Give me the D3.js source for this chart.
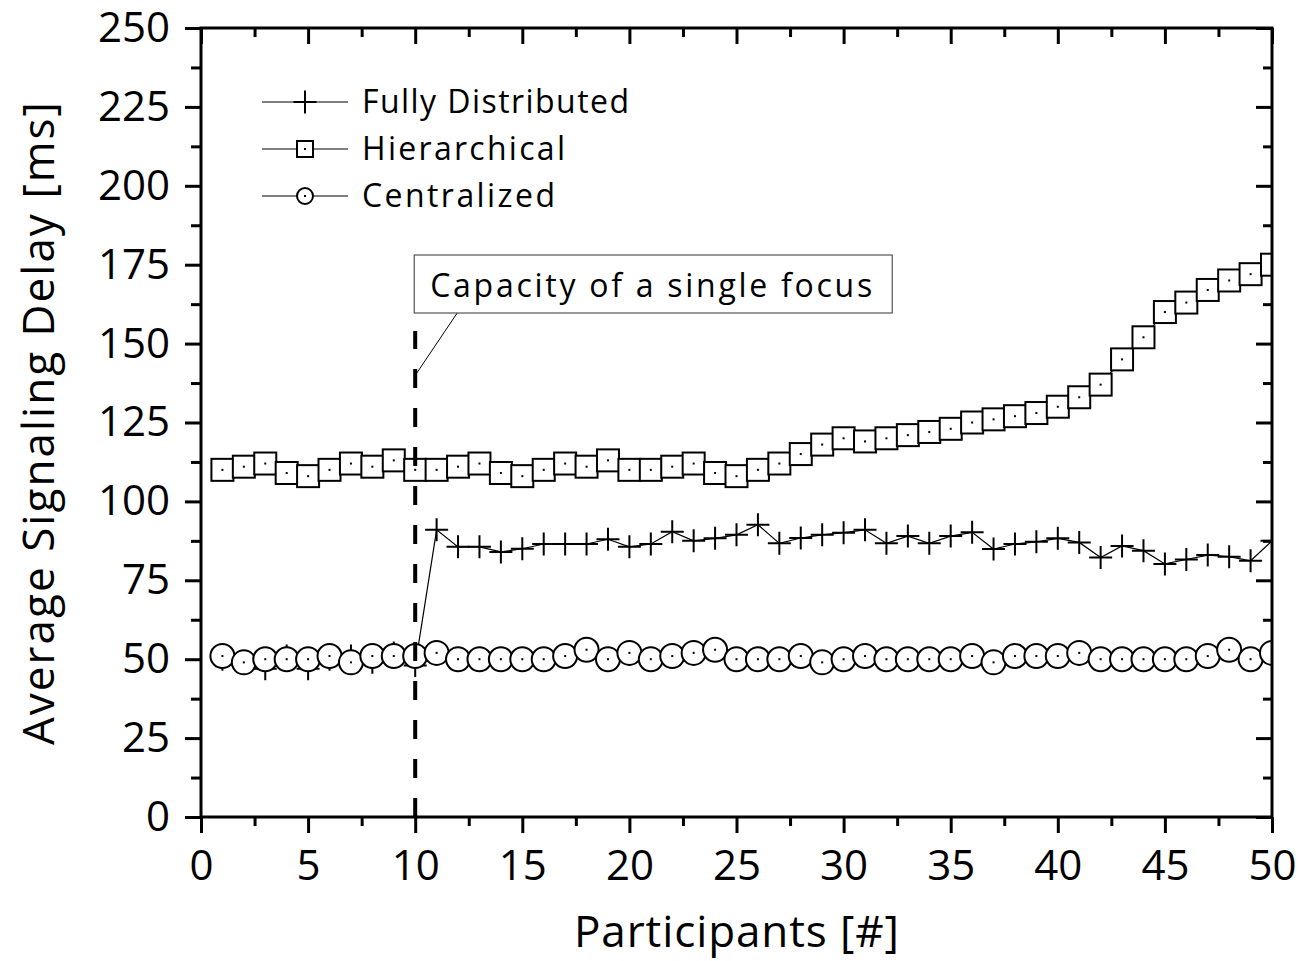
<!DOCTYPE html>
<html>
<head>
<meta charset="utf-8">
<script src="https://cdn.jsdelivr.net/npm/d3@7"></script>
<style>
  html, body { margin: 0; padding: 0; background: #fff; }
  svg { display: block; font-family: "Open Sans", sans-serif; }
</style>
</head>
<body>
<div id="chart"></div>
<script>
// Average signaling delay vs. number of participants, three architectures.

const participants = [1, 2, 3, 4, 5, 6, 7, 8, 9, 10, 11, 12, 13, 14, 15, 16, 17, 18, 19, 20,
  21, 22, 23, 24, 25, 26, 27, 28, 29, 30, 31, 32, 33, 34, 35, 36, 37, 38, 39, 40,
  41, 42, 43, 44, 45, 46, 47, 48, 49, 50];

const fullyDistributed = [50, 49, 47, 51, 47, 50, 51, 49, 52, 48,
  91, 85.6, 85.6, 84, 85, 86.5, 86.5, 86.5, 88, 85.6,
  86.5, 90.4, 87.5, 88.3, 89.4, 92.6, 86.7, 88.4, 89.4, 90.1,
  91, 86.7, 89, 86.7, 89, 90.2, 84.9, 86.5, 87.2, 88.3,
  87, 82.2, 85.9, 84.4, 80.2, 81.6, 83, 82.5, 81.2, 87.5];

const hierarchical = [110, 111, 112, 109, 108, 110, 112, 111, 113, 110,
  110, 111, 112, 109, 108, 110, 112, 111, 113, 110,
  110, 111, 112, 109, 108, 110, 112, 115, 118, 120,
  119, 120, 121, 122, 123, 125, 126, 127, 128, 130,
  133, 137, 145, 152, 160, 163, 167, 170, 172, 175];

const centralized = [51, 49, 50, 50, 50, 51, 49, 51, 51, 51,
  52, 50, 50, 50, 50, 50, 51, 53, 50, 52,
  50, 51, 52, 53, 50, 50, 50, 51, 49, 50,
  51, 50, 50, 50, 50, 51, 49, 51, 51, 51,
  52, 50, 50, 50, 50, 50, 51, 53, 50, 52];

const seriesNames = ['Fully Distributed', 'Hierarchical', 'Centralized'];
const xTicks = [0, 5, 10, 15, 20, 25, 30, 35, 40, 45, 50];
const xMinorTicks = [2.5, 7.5, 12.5, 17.5, 22.5, 27.5, 32.5, 37.5, 42.5, 47.5];
const yTicks = [0, 25, 50, 75, 100, 125, 150, 175, 200, 225, 250];
const yMinorTicks = [12.5, 37.5, 62.5, 87.5, 112.5, 137.5, 162.5, 187.5, 212.5, 237.5];

const capacityX = 10;          // single focus capacity (participants)
const capacityTop = 154;       // where the dashed marker stops (ms)
const capacityLabel = 'Capacity of a single focus';
const xTitle = 'Participants [#]';
const yTitle = 'Average Signaling Delay [ms]';

const W = 1300, H = 961;
const margin = { top: 28, right: 28, bottom: 144, left: 201 };

const x = d3.scaleLinear().domain([0, 50]).range([margin.left, W - margin.right]);
const y = d3.scaleLinear().domain([0, 250]).range([H - margin.bottom, margin.top]);

const svg = d3.select('#chart').append('svg')
  .attr('width', W).attr('height', H)
  .attr('viewBox', `0 0 ${W} ${H}`);

svg.append('defs').append('clipPath').attr('id', 'plot-clip')
  .append('rect')
    .attr('x', x(0)).attr('y', y(250))
    .attr('width', x(50) - x(0)).attr('height', y(0) - y(250));

// --- axes ---------------------------------------------------------------
function styleAxis(g) {
  g.select('.domain').remove();
  g.selectAll('.tick line').attr('stroke', '#000').attr('stroke-width', 3);
  g.selectAll('.tick text').attr('fill', '#000')
    .attr('font-size', 42).attr('font-family', '"Open Sans", sans-serif');
}

svg.append('g').attr('transform', `translate(${x(0)},0)`)
  .call(d3.axisLeft(y).tickValues(yTicks).tickSize(16).tickPadding(15).tickSizeOuter(0))
  .call(styleAxis);
svg.append('g').attr('transform', `translate(${x(0)},0)`)
  .call(d3.axisLeft(y).tickValues(yMinorTicks).tickSize(10).tickFormat('').tickSizeOuter(0))
  .call(styleAxis);
svg.append('g').attr('transform', `translate(${x(50)},0)`)
  .call(d3.axisRight(y).tickValues(yTicks).tickSize(-16).tickFormat('').tickSizeOuter(0))
  .call(styleAxis);
svg.append('g').attr('transform', `translate(${x(50)},0)`)
  .call(d3.axisRight(y).tickValues(yMinorTicks).tickSize(-9).tickFormat('').tickSizeOuter(0))
  .call(styleAxis);

svg.append('g').attr('transform', `translate(0,${y(0)})`)
  .call(d3.axisBottom(x).tickValues(xTicks).tickSize(16).tickPadding(17).tickSizeOuter(0))
  .call(styleAxis);
svg.append('g').attr('transform', `translate(0,${y(0)})`)
  .call(d3.axisBottom(x).tickValues(xMinorTicks).tickSize(9).tickFormat('').tickSizeOuter(0))
  .call(styleAxis);
svg.append('g').attr('transform', `translate(0,${y(250)})`)
  .call(d3.axisTop(x).tickValues(xTicks).tickSize(-16).tickFormat('').tickSizeOuter(0))
  .call(styleAxis);
svg.append('g').attr('transform', `translate(0,${y(250)})`)
  .call(d3.axisTop(x).tickValues(xMinorTicks).tickSize(-9).tickFormat('').tickSizeOuter(0))
  .call(styleAxis);

// axis titles
svg.append('text')
  .attr('x', (x(0) + x(50)) / 2).attr('y', 947)
  .attr('text-anchor', 'middle').attr('font-size', 44)
  .attr('textLength', 325).attr('lengthAdjust', 'spacing')
  .text(xTitle);
svg.append('text')
  .attr('transform', `translate(54,${(y(0) + y(250)) / 2 + 1}) rotate(-90)`)
  .attr('text-anchor', 'middle').attr('font-size', 44)
  .attr('textLength', 643).attr('lengthAdjust', 'spacing')
  .text(yTitle);

// --- markers ------------------------------------------------------------
const markers = {
  plus(sel, s) {
    sel.append('path').attr('d', `M${-s},0H${s}M0,${-s}V${s}`)
      .attr('stroke', '#000').attr('stroke-width', 2).attr('fill', 'none');
  },
  square(sel, s) {
    sel.append('rect').attr('x', -s).attr('y', -s).attr('width', 2 * s).attr('height', 2 * s)
      .attr('fill', '#fff').attr('stroke', '#000').attr('stroke-width', 2);
    sel.append('rect').attr('x', -1).attr('y', -1).attr('width', 2).attr('height', 2).attr('fill', '#000');
  },
  circle(sel, s) {
    sel.append('circle').attr('r', s)
      .attr('fill', '#fff').attr('stroke', '#000').attr('stroke-width', 2);
    sel.append('rect').attr('x', -1).attr('y', -1).attr('width', 2).attr('height', 2).attr('fill', '#000');
  }
};

const series = [
  { name: seriesNames[0], values: fullyDistributed, marker: 'plus', size: 11.5, legendSize: 11.5 },
  { name: seriesNames[1], values: hierarchical, marker: 'square', size: 11, legendSize: 8 },
  { name: seriesNames[2], values: centralized, marker: 'circle', size: 12, legendSize: 8 }
];

const plot = svg.append('g').attr('clip-path', 'url(#plot-clip)');
const line = d3.line().x(d => x(d[0])).y(d => y(d[1]));

series.forEach(s => {
  const pts = participants.map((p, i) => [p, s.values[i]]);
  const g = plot.append('g');
  g.append('path').attr('d', line(pts))
    .attr('fill', 'none').attr('stroke', '#000').attr('stroke-width', 1.2);
  g.selectAll('g.pt').data(pts).enter().append('g')
    .attr('class', 'pt')
    .attr('transform', d => `translate(${x(d[0])},${y(d[1])})`)
    .each(function () { markers[s.marker](d3.select(this), s.size); });
});

// frame
svg.append('rect')
  .attr('x', x(0)).attr('y', y(250))
  .attr('width', x(50) - x(0)).attr('height', y(0) - y(250))
  .attr('fill', 'none').attr('stroke', '#000').attr('stroke-width', 3);

// --- capacity marker + annotation ----------------------------------------
svg.append('line')
  .attr('x1', x(capacityX)).attr('y1', y(0))
  .attr('x2', x(capacityX)).attr('y2', y(capacityTop))
  .attr('stroke', '#000').attr('stroke-width', 4).attr('stroke-dasharray', '19 20');

const boxX = x(capacityX) - 1, boxY = 255, boxW = 478, boxH = 58;
svg.append('line')
  .attr('x1', boxX + 43).attr('y1', boxY + boxH)
  .attr('x2', x(capacityX) + 1).attr('y2', y(140.4))
  .attr('stroke', '#000').attr('stroke-width', 1);
svg.append('rect')
  .attr('x', boxX).attr('y', boxY).attr('width', boxW).attr('height', boxH)
  .attr('fill', '#fff').attr('stroke', '#333').attr('stroke-width', 1);
svg.append('text')
  .attr('x', boxX + 16).attr('y', boxY + 42)
  .attr('font-size', 32).attr('textLength', 442).attr('lengthAdjust', 'spacing')
  .text(capacityLabel);

// --- legend -------------------------------------------------------------
const legendWidths = [267, 203, 193];
const legend = svg.append('g').attr('transform', 'translate(262,102)');
series.forEach((s, i) => {
  const row = legend.append('g').attr('transform', `translate(0,${i * 47})`);
  row.append('line').attr('x1', 0).attr('x2', 86).attr('y1', 0).attr('y2', 0)
    .attr('stroke', '#000').attr('stroke-width', 1.2);
  const m = row.append('g').attr('transform', 'translate(43,0)');
  markers[s.marker](m, s.legendSize);
  row.append('text').attr('x', 100).attr('y', 11)
    .attr('font-size', 32).attr('textLength', legendWidths[i]).attr('lengthAdjust', 'spacing')
    .text(s.name);
});
</script>
</body>
</html>
